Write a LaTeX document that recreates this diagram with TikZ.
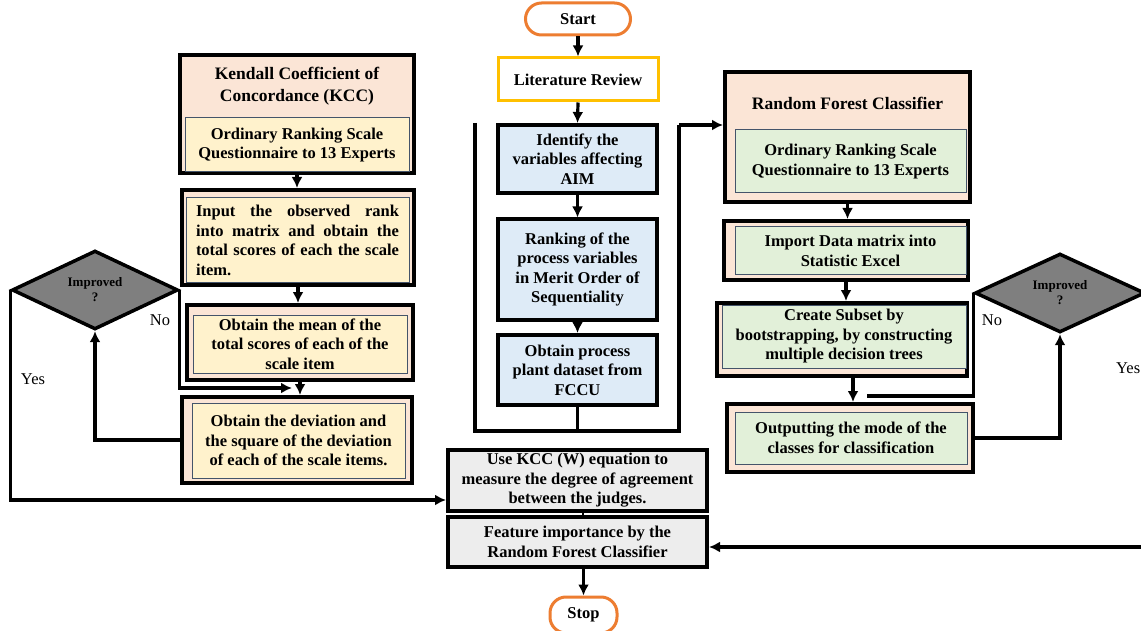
\documentclass[tikz,border=0pt]{standalone}
\usepackage{fontspec}
\setmainfont{Liberation Serif}
\usetikzlibrary{arrows.meta,shapes.geometric}
\definecolor{peach}{HTML}{FBE5D6}
\definecolor{yellowf}{HTML}{FFF2CC}
\definecolor{bluef}{HTML}{DEEBF7}
\definecolor{greenf}{HTML}{E2F0D9}
\definecolor{grayf}{HTML}{EDEDED}
\definecolor{diamf}{HTML}{7F7F7F}
\definecolor{innerb}{HTML}{44546A}
\definecolor{orangeb}{HTML}{ED7D31}
\definecolor{goldb}{HTML}{FFC000}
\newcommand\mytxt{\fontsize{16.5}{19.5}\selectfont\bfseries}
\newcommand\mytitle{\fontsize{17.5}{22}\selectfont\bfseries}
\newcommand\mysmall{\fontsize{13}{15}\selectfont\bfseries}
\newcommand\mylab{\fontsize{16.5}{19.5}\selectfont}
\newcommand\jline[1]{\leavevmode\hbox to 203pt{#1}}
\begin{document}
\begin{tikzpicture}[x=1pt,y=-1pt,
  outerbox/.style={draw=black,line width=4pt,inner sep=0pt,fill=peach},
  innerbox/.style={draw=innerb,line width=1pt,inner sep=0pt,align=center,font=\mytxt},
  plainbox/.style={draw=black,line width=4pt,inner sep=0pt,align=center,font=\mytxt},
  termbox/.style={draw=orangeb,line width=3pt,rounded corners=16pt,inner sep=0pt,font=\mytxt,fill=white},
  decision/.style={diamond,draw=black,line width=3.5pt,fill=diamf,inner sep=0pt,align=center,font=\mysmall},
  conn/.style={draw=black,line width=3.2pt},
  arr/.style={conn,-{Latex[length=11pt,width=11pt]}},
  lab/.style={font=\mylab,inner sep=0pt}]
\fill[white] (0,0) rectangle (1141,631);
\clip (0,0) rectangle (1141,631);

% ---------- left column ----------
\node[outerbox, minimum width=234pt, minimum height=118pt] (kcc) at (297,114) {};
\node[font=\mytitle, align=center, inner sep=0pt] (kcct) at (297,86) {Kendall Coefficient of\\Concordance (KCC)};
\node[innerbox, fill=yellowf, minimum width=224pt, minimum height=54pt] (kcci) at (297,145) {Ordinary Ranking Scale\\Questionnaire to 13 Experts};

\node[outerbox, minimum width=232pt, minimum height=95pt] (b2) at (298,237.5) {};
\node[innerbox, fill=yellowf, minimum width=223pt, minimum height=85pt, text width=203pt, align=left] (b2i) at (297.5,240.5)
  {\jline{Input\hfill the\hfill observed\hfill rank}\\\jline{into\hfill matrix\hfill and\hfill obtain\hfill the}\\\jline{total\hfill scores\hfill of\hfill each\hfill the\hfill scale}\\item.};

\node[outerbox, minimum width=226pt, minimum height=75pt] (b3) at (300,342.5) {};
\node[innerbox, fill=yellowf, minimum width=214pt, minimum height=58pt] (b3i) at (300,344) {Obtain the mean of the\\total scores of each of the\\scale item};

\node[outerbox, minimum width=230pt, minimum height=86pt] (b4) at (297,440) {};
\node[innerbox, fill=yellowf, minimum width=213pt, minimum height=75pt] (b4i) at (298.5,440.5) {Obtain the deviation and\\the square of the deviation\\of each of the scale items.};

\node[decision, minimum width=166pt, minimum height=74pt] (d1) at (95,290) {Improved\\?};

% ---------- middle column ----------
\node[termbox, minimum width=105pt, minimum height=32pt] (start) at (578,19) {Start};
\node[draw=goldb, line width=3pt, fill=white, minimum width=160pt, minimum height=43pt, inner sep=0pt, font=\mytxt] (lit) at (578,79.5) {Literature Review};
\node[plainbox, fill=bluef, minimum width=159pt, minimum height=68pt] (ident) at (577.5,159) {Identify the\\variables affecting\\AIM};
\node[plainbox, fill=bluef, minimum width=159pt, minimum height=100pt] (rank) at (577.5,269.5) {Ranking of the\\process variables\\in Merit Order of\\Sequentiality};
\node[plainbox, fill=bluef, minimum width=159pt, minimum height=70pt] (proc) at (577.5,370) {Obtain process\\plant dataset from\\FCCU};
\node[plainbox, fill=grayf, minimum width=259pt, minimum height=61pt] (usek) at (577.5,480.5) {Use KCC (W) equation to\\measure the degree of agreement\\between the judges.};
\node[plainbox, fill=grayf, minimum width=259pt, minimum height=50pt] (feat) at (577.5,542) {Feature importance by the\\Random Forest Classifier};
\node[termbox, minimum width=67pt, minimum height=36pt] (stop) at (583.5,615) {Stop};

% ---------- right column ----------
\node[outerbox, minimum width=245pt, minimum height=130pt] (rfc) at (847.5,137) {};
\node[font=\mytitle, inner sep=0pt] (rfct) at (847.5,103) {Random Forest Classifier};
\node[innerbox, fill=greenf, minimum width=231pt, minimum height=63pt] (rfci) at (850.5,161.5) {Ordinary Ranking Scale\\Questionnaire to 13 Experts};

\node[outerbox, minimum width=244pt, minimum height=59pt] (imp) at (846,250.5) {};
\node[innerbox, fill=greenf, minimum width=231pt, minimum height=48pt] (impi) at (850.5,251) {Import Data matrix into\\Statistic Excel};

\node[outerbox, minimum width=250pt, minimum height=73pt] (crt) at (842,339.5) {};
\node[innerbox, fill=greenf, minimum width=244pt, minimum height=63pt] (crti) at (844,336.5) {Create Subset by\\bootstrapping, by constructing\\multiple decision trees};

\node[outerbox, minimum width=246pt, minimum height=68pt] (outp) at (850,438) {};
\node[innerbox, fill=greenf, minimum width=232pt, minimum height=52pt] (outpi) at (851,438) {Outputting the mode of the\\classes for classification};

\node[decision, minimum width=170pt, minimum height=56pt] (d2) at (1060,293) {Improved\\?};

% ---------- labels ----------
\node[lab] (no1) at (160,320) {No};
\node[lab] (yes1) at (33,379) {Yes};
\node[lab] (no2) at (992,320) {No};
\node[lab, anchor=west] (yes2) at (1116,368) {Yes};

% ---------- coordinates ----------
\coordinate (noend1) at (292,388);
\coordinate (noend2) at (867,396);
\coordinate (brtl) at (475,123);
\coordinate (brbl) at (475,431);
\coordinate (brbm) at (577.5,431);
\coordinate (brbr) at (679,431);
\coordinate (brtr) at (679,125);
\coordinate (rin) at (1141,547);

% ---------- connectors ----------
\draw[arr] (kcc.south) -- (kcc.south |- b2.north);
\draw[arr] (b2.south) -- (b2.south |- b3.north);
\draw[arr] (b3.south) -- (b3.south |- b4.north);
\draw[arr] (d1.east) |- (noend1);
\draw[arr] (b4.west) -| (d1.south);
\draw[arr] (d1.west) |- ([yshift=-19.5pt]usek.west);

\draw[arr] (start.south) -- (lit.north);
\draw[arr] (lit.south) -- (ident.north);
\draw[arr] (ident.south) -- (rank.north);
\draw[arr] (rank.south) -- (proc.north);
\draw[conn] (proc.south) -- (brbm);
\draw[conn] (brtl) -- (brbl) -- (brbr) -- (brtr);
\draw[arr] (brtr) -- ([yshift=12pt]rfc.west);
\draw[conn, line width=1.5pt] ([xshift=5.5pt]usek.south) -- ([xshift=5.5pt]feat.north);
\draw[arr] ([xshift=6pt]feat.south) -- (stop.north);

\draw[arr] (rfc.south) -- (rfc.south |- imp.north);
\draw[arr] (imp.south) -- (imp.south |- crt.north);
\draw[arr] ([xshift=11pt]crt.south) -- ([xshift=11pt]crt.south |- outp.north);
\draw[conn] (d2.west) |- (noend2);
\draw[arr] (outp.east) -| (d2.south);
\draw[arr] (rin) -- ([yshift=-5pt]feat.east);
\end{tikzpicture}
\end{document}
